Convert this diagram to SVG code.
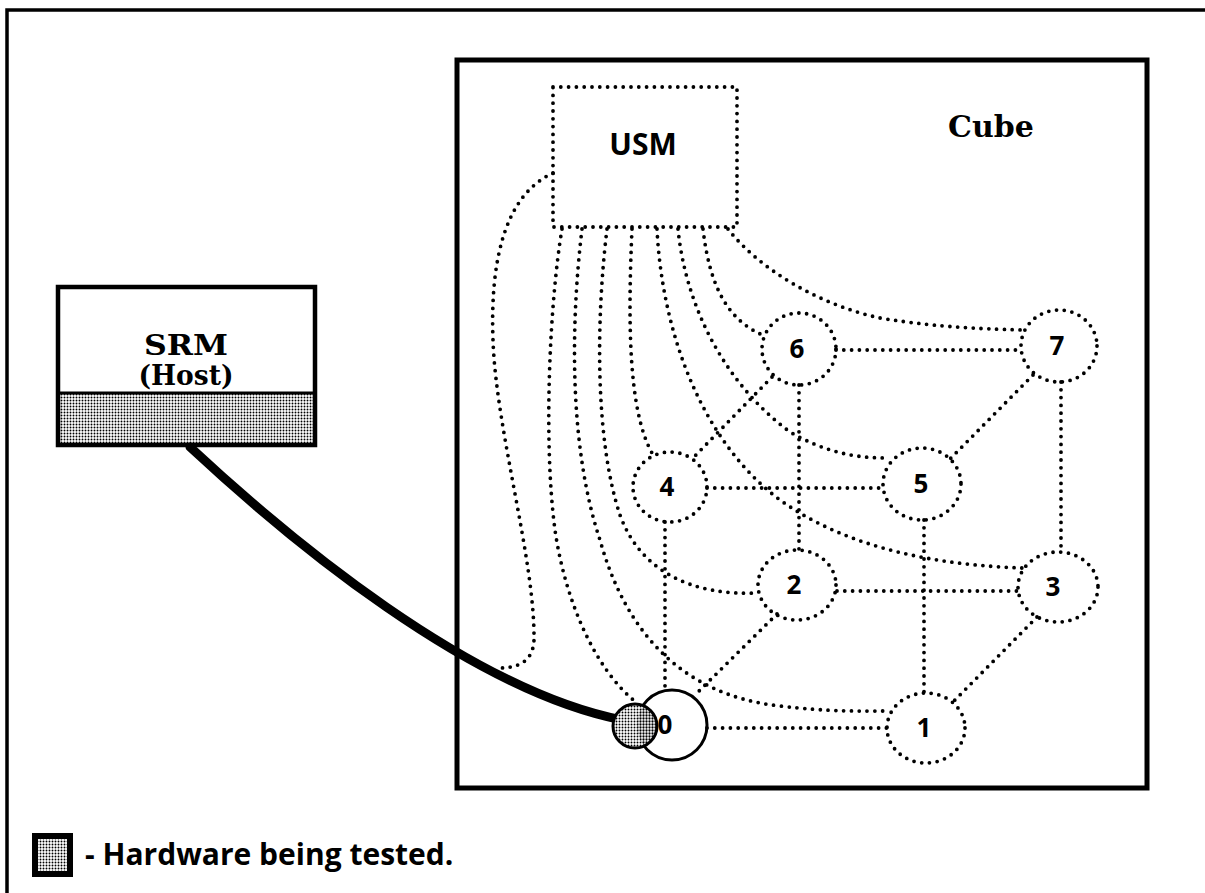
<svg xmlns="http://www.w3.org/2000/svg" width="1205" height="893" viewBox="0 0 1205 893">
  <style>
    .frame { fill: none; stroke: #000; stroke-width: 3.5; }
    .dot { fill: none; stroke: #000; stroke-width: 3.8; stroke-dasharray: 0 7.8; stroke-linecap: round; }
    .solid { fill: none; stroke: #000; stroke-width: 3; }
    .num { font-family: "Open Sans", "Liberation Sans", sans-serif; font-weight: 700; font-size: 26px; text-anchor: middle; }
    .sans { font-family: "Open Sans", "Liberation Sans", sans-serif; font-weight: 700; }
    .serif { font-family: "DejaVu Serif", "Liberation Serif", serif; font-weight: 700; text-anchor: middle; }
  </style>
  <defs>
    <pattern id="shade" width="3" height="3" patternUnits="userSpaceOnUse">
      <rect width="3" height="3" fill="#fff"/>
      <circle cx="1.5" cy="1.5" r="0.95" fill="#000"/>
    </pattern>
    <pattern id="shadeDense" width="3" height="3" patternUnits="userSpaceOnUse">
      <rect width="3" height="3" fill="#fff"/>
      <circle cx="1.5" cy="1.5" r="1.15" fill="#000"/>
    </pattern>
    <clipPath id="node0Clip">
      <circle cx="672" cy="725" r="35"/>
    </clipPath>
  </defs>

  <rect width="1205" height="893" fill="#fff"/>

  <!-- page frame (top and left rules) -->
  <path class="frame" d="M7,893 L7,10 L1205,10"/>

  <!-- cube enclosure -->
  <g id="cube">
    <rect x="457" y="60" width="690" height="728" fill="none" stroke="#000" stroke-width="5"/>
    <text class="serif" x="991" y="137" font-size="30">Cube</text>
  </g>

  <!-- host -->
  <g id="srm">
    <rect x="58" y="393" width="257" height="52" fill="url(#shade)"/>
    <rect x="58" y="287" width="257" height="158" fill="none" stroke="#000" stroke-width="4.5"/>
    <line x1="58" y1="393" x2="315" y2="393" stroke="#000" stroke-width="3"/>
    <text class="serif" x="186" y="355" font-size="28" textLength="84" lengthAdjust="spacingAndGlyphs">SRM</text>
    <text class="serif" x="186" y="385" font-size="28" textLength="95" lengthAdjust="spacingAndGlyphs">(Host)</text>
  </g>

  <!-- connectors -->
  <g id="connectors">
    <!-- cube edges -->
    <path class="dot" d="M836,350 L1021,350"/>
    <path class="dot" d="M799,385 L799,550"/>
    <path class="dot" d="M772,377 L692,459"/>
    <path class="dot" d="M1033,375 L950,459"/>
    <path class="dot" d="M1061,382 L1061,552"/>
    <path class="dot" d="M707,488 L883,488"/>
    <path class="dot" d="M665,522 L665,690"/>
    <path class="dot" d="M924,520 L924,693"/>
    <path class="dot" d="M837,591 L1018,591"/>
    <path class="dot" d="M777,614 L697,693"/>
    <path class="dot" d="M1037,617 L953,702"/>
    <path class="dot" d="M707,728 L887,728"/>

    <!-- USM links -->
    <path class="dot" d="M553,173 C505,195 490,260 493,340 C496,430 535,560 534,640 C533,662 518,668 498,668"/>
    <path class="dot" d="M562,229 C550,300 543,440 555,530 C565,600 595,670 637,703"/>
    <path class="dot" d="M582,229 C570,330 570,450 600,540 C625,630 680,695 780,706 C830,712 860,711 890,711"/>
    <path class="dot" d="M607,229 C596,320 595,440 620,515 C640,570 690,596 758,593"/>
    <path class="dot" d="M632,229 C628,320 628,410 652,453"/>
    <path class="dot" d="M657,229 C662,330 700,440 780,500 C850,550 940,565 1022,568"/>
    <path class="dot" d="M678,229 C685,300 720,380 790,432 C825,452 855,458 886,458"/>
    <path class="dot" d="M703,229 C710,290 730,322 765,336"/>
    <path class="dot" d="M728,229 C760,270 820,305 880,318 C940,328 990,329 1024,330"/>

    <!-- host cable -->
    <path d="M190,447 C290,540 470,690 622,720" fill="none" stroke="#000" stroke-width="9" stroke-linecap="round"/>
  </g>

  <g id="usm">
    <rect class="dot" x="553" y="87" width="184" height="140"/>
    <text class="sans" x="643" y="155" font-size="30" text-anchor="middle">USM</text>
  </g>

  <g id="node0">
    <circle class="solid" cx="672" cy="725" r="35"/>
    <circle cx="635" cy="726" r="22" fill="url(#shade)"/>
    <circle cx="635" cy="726" r="22" fill="url(#shadeDense)" clip-path="url(#node0Clip)"/>
    <circle cx="635" cy="726" r="22" fill="none" stroke="#000" stroke-width="3"/>
    <text class="num" x="665" y="734">0</text>
  </g>
  <g id="node1">
    <ellipse class="dot" cx="926" cy="728" rx="39" ry="35"/>
    <text class="num" x="924" y="737">1</text>
  </g>
  <g id="node2">
    <ellipse class="dot" cx="797" cy="585" rx="39" ry="35"/>
    <text class="num" x="794" y="594">2</text>
  </g>
  <g id="node3">
    <ellipse class="dot" cx="1058" cy="587" rx="40" ry="35"/>
    <text class="num" x="1053" y="596">3</text>
  </g>
  <g id="node4">
    <ellipse class="dot" cx="670" cy="487" rx="37" ry="35"/>
    <text class="num" x="667" y="496">4</text>
  </g>
  <g id="node5">
    <ellipse class="dot" cx="922" cy="484" rx="39" ry="36"/>
    <text class="num" x="921" y="493">5</text>
  </g>
  <g id="node6">
    <ellipse class="dot" cx="799" cy="349" rx="37" ry="36"/>
    <text class="num" x="797" y="358">6</text>
  </g>
  <g id="node7">
    <ellipse class="dot" cx="1059" cy="346" rx="38" ry="36"/>
    <text class="num" x="1057" y="355">7</text>
  </g>

  <!-- key -->
  <g id="legend">
    <rect x="35" y="836" width="35" height="38" fill="url(#shade)" stroke="#000" stroke-width="6"/>
    <text class="sans" x="85" y="865" font-size="30">- Hardware being tested.</text>
  </g>
</svg>
